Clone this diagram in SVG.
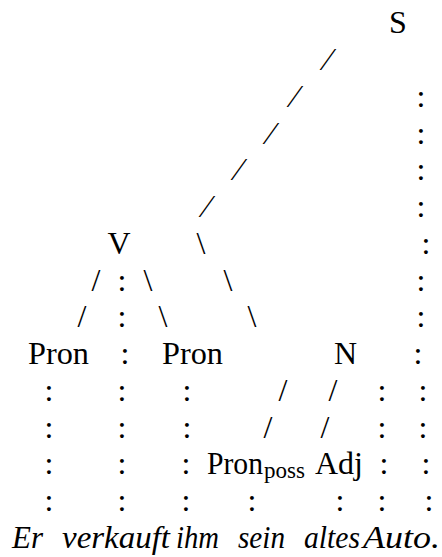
<svg xmlns="http://www.w3.org/2000/svg" width="442" height="557" viewBox="0 0 442 557">
<style>
text{font-family:"Liberation Serif","Times New Roman",serif;font-size:32px;fill:#000}
.c{text-anchor:middle}
.sub{font-size:23px}
.w{font-style:italic}
</style>
<rect width="442" height="557" fill="#fff"/>
<g id="connectors" class="c">
<text x="328" y="70">⁄</text>
<text x="295" y="107">⁄</text>
<text x="271" y="144">⁄</text>
<text x="239" y="180">⁄</text>
<text x="207" y="217">⁄</text>
<text x="201" y="254">\</text>
<text x="228" y="291">\</text>
<text x="252" y="327">\</text>
<text x="96" y="291">/</text>
<text x="82" y="327">/</text>
<text x="148" y="291">\</text>
<text x="163" y="327">\</text>
<text x="283" y="401">/</text>
<text x="268" y="438">/</text>
<text x="333" y="401">/</text>
<text x="325" y="438">/</text>
<text x="421" y="107">:</text>
<text x="421" y="144">:</text>
<text x="421" y="180">:</text>
<text x="421" y="217">:</text>
<text x="426" y="254">:</text>
<text x="421" y="291">:</text>
<text x="421" y="327">:</text>
<text x="418" y="364">:</text>
<text x="423" y="401">:</text>
<text x="423" y="438">:</text>
<text x="426" y="474">:</text>
<text x="429" y="511">:</text>
<text x="122" y="291">:</text>
<text x="122" y="327">:</text>
<text x="125" y="364">:</text>
<text x="122" y="401">:</text>
<text x="122" y="438">:</text>
<text x="122" y="474">:</text>
<text x="122" y="511">:</text>
<text x="49" y="401">:</text>
<text x="49" y="438">:</text>
<text x="49" y="474">:</text>
<text x="49" y="511">:</text>
<text x="187" y="401">:</text>
<text x="187" y="438">:</text>
<text x="186" y="474">:</text>
<text x="186" y="511">:</text>
<text x="382" y="401">:</text>
<text x="382" y="438">:</text>
<text x="384" y="474">:</text>
<text x="382" y="511">:</text>
<text x="252" y="511">:</text>
<text x="340" y="511">:</text>
</g>
<g id="node-S"><text class="c" x="398" y="33">S</text></g>
<g id="node-V"><text class="c" x="119" y="254">V</text></g>
<g id="node-Pron1"><text x="28" y="364" textLength="61" lengthAdjust="spacingAndGlyphs">Pron</text></g>
<g id="node-Pron2"><text x="162" y="364" textLength="61" lengthAdjust="spacingAndGlyphs">Pron</text></g>
<g id="node-N"><text class="c" x="345.5" y="364">N</text></g>
<g id="node-Pronposs"><text x="207" y="474" textLength="56" lengthAdjust="spacingAndGlyphs">Pron</text><text class="sub" x="264" y="478" textLength="41" lengthAdjust="spacingAndGlyphs">poss</text></g>
<g id="node-Adj"><text x="315" y="474" textLength="48" lengthAdjust="spacingAndGlyphs">Adj</text></g>
<g id="sentence" class="w">
<text x="12" y="548" textLength="31" lengthAdjust="spacingAndGlyphs">Er</text>
<text x="62" y="548" textLength="108" lengthAdjust="spacingAndGlyphs">verkauft</text>
<text x="176" y="548" textLength="43" lengthAdjust="spacingAndGlyphs">ihm</text>
<text x="238" y="548" textLength="47" lengthAdjust="spacingAndGlyphs">sein</text>
<text x="304" y="548" textLength="56" lengthAdjust="spacingAndGlyphs">altes</text>
<text x="363" y="548" textLength="77" lengthAdjust="spacingAndGlyphs">Auto.</text>
</g>
</svg>
